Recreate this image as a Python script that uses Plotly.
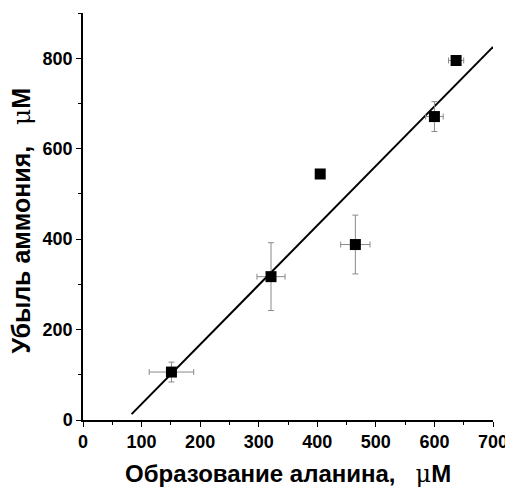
import plotly.graph_objects as go

x_ala = [151, 321, 405, 465, 600, 637]
y_amm = [106, 317, 544, 388, 671, 795]
x_err = [38, 24, 0, 25, 15, 13]
y_err = [22, 75, 0, 65, 33, 5]
fit_x = [83, 700]
fit_y = [13, 825]
x_ticks = [0, 100, 200, 300, 400, 500, 600, 700]
y_ticks = [0, 200, 400, 600, 800]
mu = "<span style='font-family:DejaVu Serif;font-weight:normal'>μ</span>"
x_title = "<b>Образование аланина,   </b>" + mu + "<b>M</b>"
y_title = "<b>Убыль аммония,   </b>" + mu + "<b>M</b>"

fig = go.Figure()
fig.add_trace(go.Scatter(x=fit_x, y=fit_y, mode="lines",
                         line=dict(color="black", width=2), showlegend=False))
fig.add_trace(go.Scatter(
    x=x_ala, y=y_amm, mode="markers",
    marker=dict(symbol="square", size=11, color="black"),
    error_x=dict(type="data", array=x_err, color="#8a8a8a", thickness=1, width=3),
    error_y=dict(type="data", array=y_err, color="#8a8a8a", thickness=1, width=3),
    showlegend=False))

font = "Liberation Sans, Arial, sans-serif"
fig.update_layout(
    width=505, height=480,
    margin=dict(l=75, r=20, t=5, b=68),
    paper_bgcolor="white", plot_bgcolor="white",
    font=dict(family=font, color="black"),
    xaxis=dict(range=[0, 700], tickvals=x_ticks,
               ticktext=[str(v) for v in x_ticks],
               ticks="outside", ticklen=5, tickwidth=1, tickcolor="black",
               minor=dict(dtick=50, ticks="outside", ticklen=3, tickcolor="black"),
               showline=True, linecolor="black", linewidth=1.5, showgrid=False,
               zeroline=False, tickfont=dict(size=18, weight="bold"), automargin=False),
    yaxis=dict(range=[0, 900], tickvals=y_ticks,
               ticktext=[str(v) for v in y_ticks],
               ticks="outside", ticklen=5, tickwidth=1, tickcolor="black",
               minor=dict(dtick=100, ticks="outside", ticklen=3, tickcolor="black"),
               showline=True, linecolor="black", linewidth=1.5, showgrid=False,
               zeroline=False, tickfont=dict(size=18, weight="bold"), automargin=False),
    annotations=[
        dict(text=x_title, xref="paper", yref="paper", x=0.5, y=-0.133,
             xanchor="center", yanchor="middle", showarrow=False,
             font=dict(size=24)),
        dict(text=y_title, xref="paper", yref="paper", x=-0.149, y=0.49,
             xanchor="center", yanchor="middle", showarrow=False, textangle=-90,
             font=dict(size=25)),
    ],
)
fig.write_html("out.html")
